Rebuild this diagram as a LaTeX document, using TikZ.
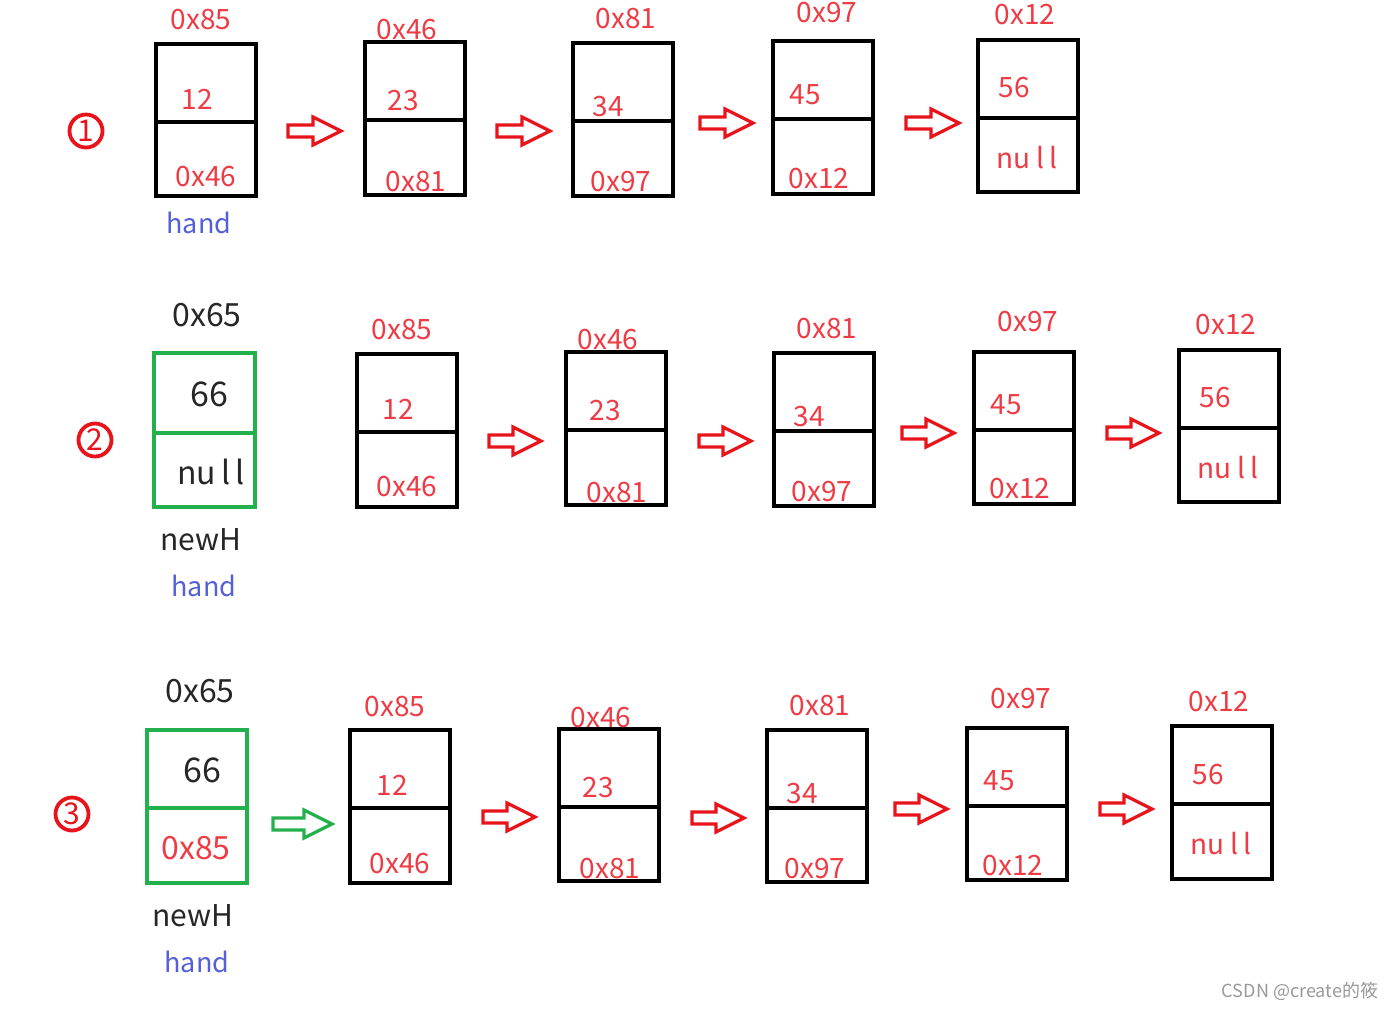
\documentclass[tikz,border=0pt]{standalone}
\usepackage{fontspec}
\setmainfont{Noto Sans CJK SC}
\newcommand\nulltxt{nu\hspace{2.6pt}l\hspace{2.6pt}l}
\begin{document}
\begin{tikzpicture}[x=0.5pt,y=-0.5pt,
  box/.style={draw=black,line width=1.6pt,minimum width=50pt,minimum height=76pt,inner sep=0pt},
  gbox/.style={draw=grn,line width=2pt,minimum width=50pt,minimum height=77pt,inner sep=0pt},
  rtxt/.style={text=rtext,font=\fontsize{14}{16}\selectfont,inner sep=0pt},
  ktxt/.style={text=black!85,font=\fontsize{16}{18}\selectfont,inner sep=0pt},
  htxt/.style={text=hblue,font=\fontsize{13.5}{16}\selectfont,inner sep=0pt},
  circ/.style={draw=rarrow,line width=1.9pt,circle,minimum size=16.5pt,inner sep=0pt,text=rarrow,font=\fontsize{15}{16}\selectfont},
  arr/.style={draw=rarrow,line width=1.6pt,line join=miter},
  garr/.style={draw=grn,line width=1.6pt,line join=miter}]
\definecolor{rtext}{HTML}{EE3B44}
\definecolor{rarrow}{HTML}{E8141C}
\definecolor{hblue}{HTML}{5560D8}
\definecolor{grn}{HTML}{22B14C}
\useasboundingbox (0,0) rectangle (1392,1009);
\fill[white] (0,0) rectangle (1392,1009);
% arrow macro: x0, x1, y, style
\newcommand\blockarr[4]{\draw[#4] (#1,{#3-6}) -- ({#2-28},{#3-6}) -- ({#2-28},{#3-14}) -- (#2,#3) -- ({#2-28},{#3+14}) -- ({#2-28},{#3+6}) -- (#1,{#3+6}) -- cycle;}
% cell macro: name, xl, xr, top, div, bot, style
\newcommand\cell[7]{\node[#7, minimum width={(#3-#2)*0.5pt}, minimum height={(#6-#4)*0.5pt}] (#1) at ({(#2+#3)/2},{(#4+#6)/2}) {};
  \draw[#7] (#1.west |- 0,#5) -- (#1.east |- 0,#5);}
%%%%%%%% Row 1
\node[circ] (c1) at (86,131) {1};
\cell{a1}{156}{256}{44}{122}{196}{box}
\cell{a2}{365}{465}{42}{120}{195}{box}
\cell{a3}{573}{673}{43}{121}{196}{box}
\cell{a4}{773}{873}{41}{119}{194}{box}
\cell{a5}{978}{1078}{40}{118}{192}{box}
\node[rtxt] (a1l) at (201,20) {0x85};
\node[rtxt] (a2l) at (407,30) {0x46};
\node[rtxt] (a3l) at (626,19) {0x81};
\node[rtxt] (a4l) at (827,13) {0x97};
\node[rtxt] (a5l) at (1025,15) {0x12};
\node[rtxt] (a1v) at (197,99) {12};
\node[rtxt] (a2v) at (403,101) {23};
\node[rtxt] (a3v) at (608,107) {34};
\node[rtxt] (a4v) at (805,95) {45};
\node[rtxt] (a5v) at (1014,88) {56};
\node[rtxt] (a1p) at (206,177) {0x46};
\node[rtxt] (a2p) at (416,182) {0x81};
\node[rtxt] (a3p) at (621,182) {0x97};
\node[rtxt] (a4p) at (819,179) {0x12};
\node[rtxt] (a5p) at (1027,158) {\nulltxt};
\node[htxt] (ah) at (199,223) {hand};
\blockarr{288}{341}{131}{arr}
\blockarr{497}{550}{131}{arr}
\blockarr{700}{753}{123}{arr}
\blockarr{906}{959}{123}{arr}
%%%%%%%% Row 2
\node[circ] (c2) at (95,440) {2};
\cell{b0}{154}{255}{353}{433}{507}{gbox}
\cell{b1}{357}{457}{354}{432}{507}{box}
\cell{b2}{566}{666}{352}{430}{505}{box}
\cell{b3}{774}{874}{353}{431}{506}{box}
\cell{b4}{974}{1074}{352}{430}{504}{box}
\cell{b5}{1179}{1279}{350}{428}{502}{box}
\node[ktxt] (b0l) at (207,315) {0x65};
\node[ktxt,font=\fontsize{17}{18}\selectfont] (b0v) at (209,394) {66};
\node[ktxt] (b0p) at (211,472) {\nulltxt};
\node[ktxt,font=\fontsize{15}{18}\selectfont] (b0n) at (201,540) {newH};
\node[htxt] (b0h) at (204,586) {hand};
\node[rtxt] (b1l) at (402,330) {0x85};
\node[rtxt] (b2l) at (608,340) {0x46};
\node[rtxt] (b3l) at (827,329) {0x81};
\node[rtxt] (b4l) at (1028,322) {0x97};
\node[rtxt] (b5l) at (1226,325) {0x12};
\node[rtxt] (b1v) at (398,409) {12};
\node[rtxt] (b2v) at (605,411) {23};
\node[rtxt] (b3v) at (809,417) {34};
\node[rtxt] (b4v) at (1006,405) {45};
\node[rtxt] (b5v) at (1215,398) {56};
\node[rtxt] (b1p) at (407,487) {0x46};
\node[rtxt] (b2p) at (617,493) {0x81};
\node[rtxt] (b3p) at (822,492) {0x97};
\node[rtxt] (b4p) at (1020,489) {0x12};
\node[rtxt] (b5p) at (1228,468) {\nulltxt};
\blockarr{489}{541}{441}{arr}
\blockarr{699}{751}{441}{arr}
\blockarr{902}{954}{433}{arr}
\blockarr{1107}{1159}{433}{arr}
%%%%%%%% Row 3
\node[circ] (c3) at (72,814) {3};
\cell{d0}{147}{247}{730}{808}{883}{gbox}
\cell{d1}{350}{450}{730}{808}{883}{box}
\cell{d2}{559}{659}{729}{807}{881}{box}
\cell{d3}{767}{867}{730}{808}{882}{box}
\cell{d4}{967}{1067}{728}{806}{880}{box}
\cell{d5}{1172}{1272}{726}{804}{879}{box}
\node[ktxt] (d0l) at (200,691) {0x65};
\node[ktxt,font=\fontsize{17}{18}\selectfont] (d0v) at (202,770) {66};
\node[rtxt,font=\fontsize{16}{18}\selectfont] (d0p) at (196,848) {0x85};
\node[ktxt,font=\fontsize{15}{18}\selectfont] (d0n) at (193,916) {newH};
\node[htxt] (d0h) at (197,962) {hand};
\node[rtxt] (d1l) at (395,706) {0x85};
\node[rtxt] (d2l) at (601,717) {0x46};
\node[rtxt] (d3l) at (820,705) {0x81};
\node[rtxt] (d4l) at (1021,698) {0x97};
\node[rtxt] (d5l) at (1219,701) {0x12};
\node[rtxt] (d1v) at (392,785) {12};
\node[rtxt] (d2v) at (598,787) {23};
\node[rtxt] (d3v) at (802,793) {34};
\node[rtxt] (d4v) at (999,781) {45};
\node[rtxt] (d5v) at (1208,774) {56};
\node[rtxt] (d1p) at (400,863) {0x46};
\node[rtxt] (d2p) at (610,868) {0x81};
\node[rtxt] (d3p) at (815,868) {0x97};
\node[rtxt] (d4p) at (1013,865) {0x12};
\node[rtxt] (d5p) at (1221,844) {\nulltxt};
\blockarr{273}{332}{824}{garr}
\blockarr{483}{535}{817}{arr}
\blockarr{692}{744}{818}{arr}
\blockarr{895}{947}{809}{arr}
\blockarr{1100}{1152}{809}{arr}
%%%%%%%% watermark
\node[text=black!40,font=\fontsize{9}{10}\selectfont,inner sep=0pt] (wm) at (1300,991) {CSDN @create的筱};
\end{tikzpicture}
\end{document}
